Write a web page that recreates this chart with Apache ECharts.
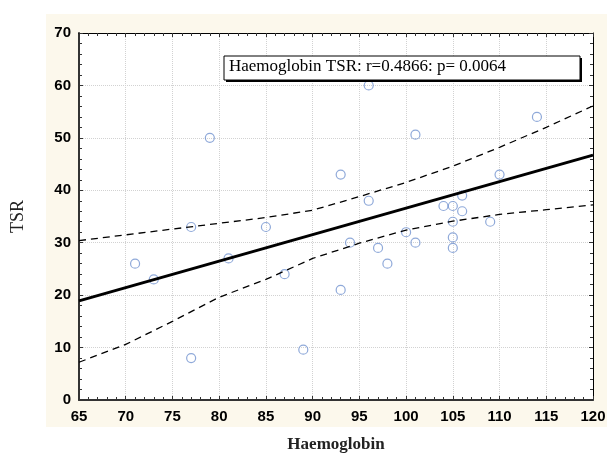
<!DOCTYPE html>
<html><head><meta charset="utf-8">
<script src="https://cdn.jsdelivr.net/npm/echarts@6/dist/echarts.min.js"></script>
<style>html,body{margin:0;padding:0;background:#fff}#c{width:607px;height:454px}</style>
</head><body><div id="c"></div>
<script>
// Scatter data: Haemoglobin (x) vs TSR (y)
const haemoglobin = [71,73,77,77,79,81,85,87,89,93,93,94,96,96,97,98,100,101,101,104,105,105,105,105,106,106,109,110,114];
const tsr         = [26,23,33,8,50,27,33,24,9.6,43,21,30,60,38,29,26,32,50.6,30,37,37,34,31,29,39,36,34,43,54];
// Regression line endpoints
const fitX = [65,120];
const fitY = [18.9,46.7];
// Confidence bands
const bandX = [65,70,75,80,85,90,95,100,105,110,115,120];
const upperBand = [30.4,31.5,32.6,33.7,34.8,36.2,38.8,41.5,44.6,48.2,52.0,56.1];
const lowerBand = [7.2,10.6,15.0,19.6,23.0,27.0,29.9,32.4,34.1,35.4,36.3,37.2];
const annotation = 'Haemoglobin TSR: r=0.4866: p= 0.0064';
const xTitle = 'Haemoglobin';
const yTitle = 'TSR';

const pts = haemoglobin.map((x,i)=>[x,tsr[i]]);
const fit = fitX.map((x,i)=>[x,fitY[i]]);
const up = bandX.map((x,i)=>[x,upperBand[i]]);
const lo = bandX.map((x,i)=>[x,lowerBand[i]]);

const chart = echarts.init(document.getElementById('c'));
const labelFont = {fontFamily:'Liberation Sans, Arial', fontWeight:'bold', fontSize:15, color:'#000'};
const gridLine = {show:true, lineStyle:{color:'#d2d2d2', type:'dotted', width:1}};
chart.setOption({
  backgroundColor:'#fff',
  animation:false,
  graphic:[
    {type:'rect', z:-100, shape:{x:46,y:14,width:561,height:413}, style:{fill:'#fcf8ec'}},
    {type:'rect', z:100, shape:{x:226,y:58,width:356,height:24}, style:{fill:'#000'}},
    {type:'rect', z:101, shape:{x:224,y:56,width:356,height:24}, style:{fill:'#fff', stroke:'#000', lineWidth:1}},
    {type:'text', z:102, left:229, top:58, style:{text:annotation, fontFamily:'Liberation Serif, Times New Roman', fontSize:17, fill:'#000'}}
  ],
  grid:{left:79, right:14, top:33, bottom:54, show:true, backgroundColor:'#fff', borderWidth:0, outerBoundsMode:'none', containLabel:false},
  xAxis:[
    {type:'value', min:65, max:120, interval:5, position:'bottom',
     name:xTitle, nameLocation:'middle', nameGap:36,
     nameTextStyle:{fontFamily:'Liberation Serif, Times New Roman', fontWeight:'bold', fontSize:17, color:'#222'},
     axisLine:{show:true, onZero:false, lineStyle:{color:'#333', width:2}},
     axisTick:{show:true, inside:true, length:4, lineStyle:{color:'#333'}},
     minorTick:{show:true, splitNumber:5, length:3, lineStyle:{color:'#333'}},
     axisLabel:Object.assign({margin:9}, labelFont),
     splitLine:gridLine},
    {type:'value', min:65, max:120, interval:5, position:'top',
     axisLine:{show:true, onZero:false, lineStyle:{color:'#000', width:1}},
     axisTick:{show:true, inside:true, length:4, lineStyle:{color:'#333'}},
     minorTick:{show:true, splitNumber:5, length:3, lineStyle:{color:'#333'}},
     axisLabel:{show:false}, splitLine:{show:false}}
  ],
  yAxis:[
    {type:'value', min:0, max:70, interval:10, position:'left',
     name:yTitle, nameLocation:'middle', nameGap:52, nameRotate:90,
     nameTextStyle:{fontFamily:'Liberation Serif, Times New Roman', fontSize:18, color:'#222'},
     axisLine:{show:true, onZero:false, lineStyle:{color:'#333', width:2}},
     axisTick:{show:true, inside:true, length:4, lineStyle:{color:'#333'}},
     minorTick:{show:true, splitNumber:5, length:3, lineStyle:{color:'#333'}},
     axisLabel:Object.assign({margin:8}, labelFont),
     splitLine:gridLine},
    {type:'value', min:0, max:70, interval:10, position:'right',
     axisLine:{show:true, onZero:false, lineStyle:{color:'#000', width:1}},
     axisTick:{show:true, inside:true, length:4, lineStyle:{color:'#333'}},
     minorTick:{show:true, splitNumber:5, length:3, lineStyle:{color:'#333'}},
     axisLabel:{show:false}, splitLine:{show:false}}
  ],
  series:[
    {type:'line', data:up, symbol:'none', silent:true, lineStyle:{color:'#000', width:1.3, type:[7,5]}},
    {type:'line', data:lo, symbol:'none', silent:true, lineStyle:{color:'#000', width:1.3, type:[7,5]}},
    {type:'line', data:fit, symbol:'none', silent:true, lineStyle:{color:'#000', width:3}},
    {type:'scatter', data:pts, symbol:'circle', symbolSize:9,
     itemStyle:{color:'rgba(255,255,255,0)', borderColor:'#7393d0', borderWidth:1.2}}
  ]
});
</script></body></html>
